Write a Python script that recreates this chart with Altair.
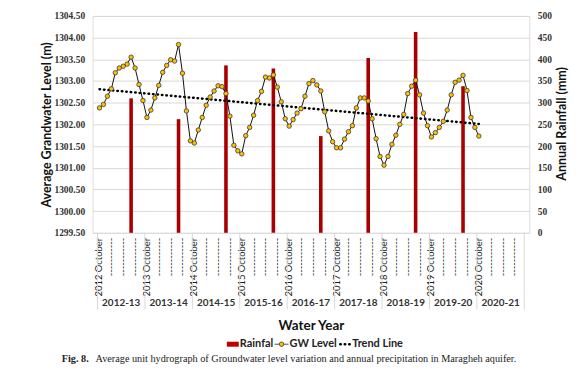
import altair as alt
import pandas as pd

# ---------------- data ----------------
gw_level = [
    1302.38, 1302.46, 1302.65, 1302.82, 1303.19, 1303.30, 1303.34, 1303.39, 1303.55, 1303.30, 1302.92, 1302.55,
    1302.16, 1302.33, 1302.61, 1302.90, 1303.20, 1303.36, 1303.49, 1303.46, 1303.84, 1303.18, 1302.31, 1301.62,
    1301.57, 1301.87, 1302.16, 1302.44, 1302.63, 1302.77, 1302.89, 1302.87, 1302.71, 1302.19, 1301.52, 1301.39,
    1301.32, 1301.74, 1301.93, 1302.21, 1302.55, 1302.76, 1303.09, 1303.07, 1303.14, 1302.86, 1302.52, 1302.13,
    1301.96, 1302.11, 1302.26, 1302.36, 1302.65, 1302.94, 1303.01, 1302.91, 1302.77, 1302.29, 1301.85, 1301.60,
    1301.46, 1301.46, 1301.66, 1301.83, 1301.97, 1302.38, 1302.61, 1302.61, 1302.54, 1302.13, 1301.67, 1301.26,
    1301.06, 1301.26, 1301.54, 1301.75, 1302.00, 1302.23, 1302.71, 1302.88, 1303.02, 1302.68, 1302.26, 1301.97,
    1301.71, 1301.81, 1301.93, 1302.07, 1302.33, 1302.68, 1302.97, 1303.02, 1303.13, 1302.78, 1302.16, 1301.93,
    1301.73,
]
rainfall = [310, 262, 386, 379, 223, 403, 463, 338]
water_years = ["2012-13", "2013-14", "2014-15", "2015-16", "2016-17",
               "2017-18", "2018-19", "2019-20", "2020-21"]
start_years = [2012, 2013, 2014, 2015, 2016, 2017, 2018, 2019, 2020]
trend_month = [0, 96]
trend_level = [1302.81, 1302.01]
gw_ticks = [1299.5, 1300.0, 1300.5, 1301.0, 1301.5, 1302.0, 1302.5, 1303.0, 1303.5, 1304.0, 1304.5]
rain_ticks = [0, 50, 100, 150, 200, 250, 300, 350, 400, 450, 500]

# ---------------- tables ----------------
gw_df = pd.DataFrame({"pos": [i + 0.5 for i in range(len(gw_level))], "level": gw_level})
rain_df = pd.DataFrame({"pos": [12 * k + 8 + 0.5 for k in range(len(rainfall))], "rain": rainfall})
trend_df = pd.DataFrame({"pos": [m + 0.5 for m in trend_month], "level": trend_level})
month_rows = []
for k, yr in enumerate(start_years):
    for m in (0, 3, 6, 9):
        month_rows.append({"pos": 12 * k + m + 0.5,
                           "label": f"{yr}  October" if m == 0 else "-----------"})
month_df = pd.DataFrame(month_rows)
year_df = pd.DataFrame({"pos": [12 * k + 6 for k in range(len(water_years))], "label": water_years})
sep_df = pd.DataFrame({"pos": [12 * k for k in range(len(water_years) + 1)]})
one = pd.DataFrame({"a": [0]})

xs = alt.Scale(domain=[0, 108], nice=False, zero=False)
X = alt.X("pos:Q", scale=xs, axis=None)

RED = "#A80000"
GOLD = "#FFC000"

bars = alt.Chart(rain_df).mark_bar(size=3.6, color=RED).encode(
    x=X,
    y=alt.Y("rain:Q", scale=alt.Scale(domain=[0, 500], nice=False),
            axis=alt.Axis(orient="right", values=rain_ticks, grid=False, ticks=False, domain=False,
                          labelOverlap=False, labelPadding=8, labelFont="Liberation Serif",
                          labelFontWeight="bold", labelFontSize=9.5, labelColor="#333333",
                          title="Annual Rainfall (mm)", titleFont="Lato", titleFontSize=12.5,
                          titleFontWeight="bold", titleColor="#111111", titleAngle=270,
                          titleX=32, titleY=108, titleAlign="center", titleBaseline="middle")),
)

gw_axis = alt.Axis(orient="left", values=gw_ticks, format=".2f", grid=True, gridColor="#d9d9d9",
                   ticks=False, domain=False, labelOverlap=False, labelPadding=8,
                   labelFont="Liberation Serif", labelFontWeight="bold", labelFontSize=9.5,
                   labelColor="#333333",
                   title="Average Grandwater Level (m)", titleFont="Lato", titleFontSize=12.5,
                   titleFontWeight="bold", titleColor="#111111", titleAngle=270,
                   titleX=-46, titleY=109, titleAlign="center", titleBaseline="middle")
gy = alt.Y("level:Q", scale=alt.Scale(domain=[1299.5, 1304.5], nice=False, zero=False), axis=gw_axis)

gw_line = alt.Chart(gw_df).mark_line(color="#111111", strokeWidth=1).encode(x=X, y=gy)
gw_pts = alt.Chart(gw_df).mark_point(filled=True, fill=GOLD, stroke="#3a3a3a", strokeWidth=0.8,
                                     size=20, opacity=1).encode(x=X, y=gy)
trend = alt.Chart(trend_df).mark_line(color="#000000", strokeWidth=2.5, strokeDash=[0.5, 4],
                                      strokeCap="round").encode(x=X, y=gy)
gw_layer = alt.layer(trend, gw_line, gw_pts)

months = alt.Chart(month_df).mark_text(angle=270, align="right", baseline="middle", font="Lato",
                                       fontSize=9.5, color="#1a1a1a").encode(
    x=X, y=alt.value(223), text="label:N")
seps = alt.Chart(sep_df).mark_rule(color="#d9d9d9", strokeWidth=1).encode(
    x=X, y=alt.value(218), y2=alt.value(295))
years = alt.Chart(year_df).mark_text(font="Lato", fontWeight="bold", fontSize=10,
                                     color="#333333", baseline="middle").encode(
    x=X, y=alt.value(289), text="label:N")

xtitle = alt.Chart(one).mark_text(text="Water Year", font="Lato", fontWeight="bold", fontSize=13.5,
                                  color="#111111", baseline="middle").encode(
    x=alt.value(220), y=alt.value(312))

LY = 330
leg_rect = alt.Chart(one).mark_rect(color="#C00000").encode(
    x=alt.value(135), x2=alt.value(147), y=alt.value(LY - 2.5), y2=alt.value(LY + 2.5))
leg_line = alt.Chart(one).mark_rule(color="#555555", strokeWidth=1).encode(
    x=alt.value(183), x2=alt.value(197), y=alt.value(LY))
leg_pt = alt.Chart(one).mark_point(filled=True, fill=GOLD, stroke="#3a3a3a", strokeWidth=0.8,
                                   size=20, opacity=1).encode(x=alt.value(190), y=alt.value(LY))
leg_dots = alt.Chart(one).mark_rule(color="#000000", strokeWidth=2.5, strokeDash=[0.5, 4],
                                    strokeCap="round").encode(
    x=alt.value(249), x2=alt.value(259), y=alt.value(LY))
leg_style = dict(align="left", baseline="middle", font="Lato", fontWeight="bold", fontSize=11,
                 color="#222222")
leg_t1 = alt.Chart(one).mark_text(text="Rainfal", **leg_style).encode(x=alt.value(148), y=alt.value(LY))
leg_t2 = alt.Chart(one).mark_text(text="GW Level", **leg_style).encode(x=alt.value(198), y=alt.value(LY))
leg_t3 = alt.Chart(one).mark_text(text="Trend Line", **leg_style).encode(x=alt.value(261), y=alt.value(LY))

cap_b = alt.Chart(one).mark_text(text="Fig. 8.", align="left", baseline="middle",
                                 font="Liberation Serif", fontWeight="bold", fontSize=10.3,
                                 color="#222222").encode(x=alt.value(-31), y=alt.value(345))
cap_t = alt.Chart(one).mark_text(
    text="Average unit hydrograph of Groundwater level variation and annual precipitation in Maragheh aquifer.",
    align="left", baseline="middle", font="Liberation Serif", fontSize=10.3,
    color="#222222").encode(x=alt.value(3), y=alt.value(345))

chart = alt.layer(
    bars, gw_layer, months, seps, years, xtitle,
    leg_rect, leg_line, leg_pt, leg_dots, leg_t1, leg_t2, leg_t3, cap_b, cap_t,
).resolve_scale(y="independent").properties(
    width=439, height=218,
    autosize=alt.AutoSizeParams(type="none"),
    padding={"left": 85, "top": 7, "right": 50, "bottom": 150},
).configure_view(stroke=None).configure(background="white")

chart.save("out.html", embed_options={"renderer": "svg", "actions": False})
